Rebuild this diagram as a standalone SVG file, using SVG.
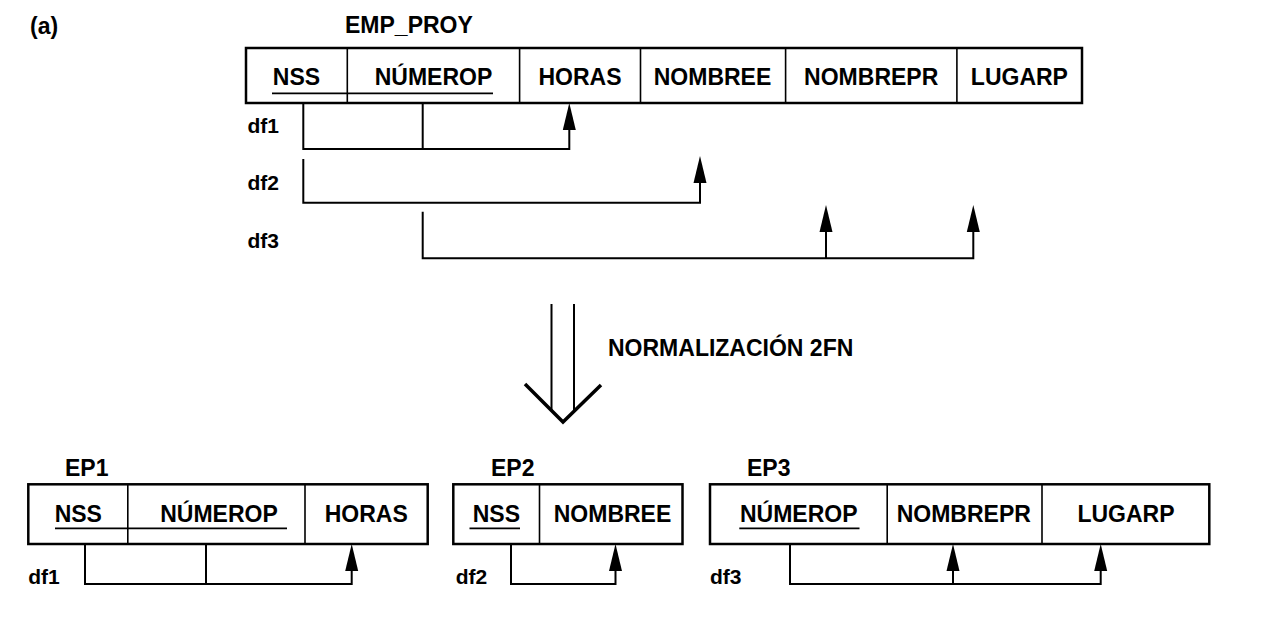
<svg xmlns="http://www.w3.org/2000/svg" width="1262" height="625" viewBox="0 0 1262 625">
  <style>
    text { font-family: "Liberation Sans", Arial, sans-serif; font-weight: bold; fill: #000; }
    .fld { font-size: 23px; text-anchor: middle; }
    .ttl { font-size: 23px; }
    .df { font-size: 21px; }
    .box { fill: #fff; stroke: #000; stroke-width: 2.5; }
    .div { stroke: #000; stroke-width: 1.6; fill: none; }
    .ul { stroke: #000; stroke-width: 1.8; fill: none; }
    .con { stroke: #000; stroke-width: 2; fill: none; }
    .arr { marker-end: url(#ah); }
  </style>
  <defs>
    <marker id="ah" markerUnits="userSpaceOnUse" viewBox="0 -7 27 14" markerWidth="27" markerHeight="14" refX="0" refY="0" orient="auto">
      <path d="M0,-6.5 L27,0 L0,6.5 Z" fill="#000"/>
    </marker>
  </defs>
  <rect width="1262" height="625" fill="#fff"/>

  <text x="30" y="33.5" class="ttl">(a)</text>

  <g id="EMP_PROY">
    <text x="345" y="33" class="ttl">EMP_PROY</text>
    <rect x="246" y="48" width="836" height="55" class="box"/>
    <path d="M347.3,48V103 M519.6,48V103 M640.5,48V103 M785.6,48V103 M956.9,48V103" class="div"/>
    <text x="296.5" y="85" class="fld">NSS</text>
    <text x="433.5" y="85" class="fld">NÚMEROP</text>
    <text x="580" y="85" class="fld">HORAS</text>
    <text x="712.5" y="85" class="fld">NOMBREE</text>
    <text x="871.2" y="85" class="fld">NOMBREPR</text>
    <text x="1019.4" y="85" class="fld">LUGARP</text>
    <path d="M272,93.3H493" class="ul"/>
  </g>

  <g id="transform">
    <path d="M551.5,304V411 M574,304V411" class="con"/>
    <polyline points="525,384 563,422 601,385" fill="none" stroke="#000" stroke-width="3.5"/>
    <text x="608" y="356" style="font-size:23px">NORMALIZACIÓN 2FN</text>
  </g>

  <g id="EP1">
    <text x="65" y="476" class="ttl">EP1</text>
    <rect x="28.3" y="484.3" width="399.4" height="59.7" class="box"/>
    <path d="M127.8,484.3V544 M305,484.3V544" class="div"/>
    <text x="78.3" y="522.3" class="fld">NSS</text>
    <text x="219" y="522.3" class="fld">NÚMEROP</text>
    <text x="366.2" y="522.3" class="fld">HORAS</text>
    <path d="M55,528.3H287" class="ul"/>
  </g>

  <g id="EP2">
    <text x="491" y="476" class="ttl">EP2</text>
    <rect x="453.3" y="484.3" width="229.2" height="59.7" class="box"/>
    <path d="M539.5,484.3V544" class="div"/>
    <text x="496.4" y="522.3" class="fld">NSS</text>
    <text x="612.5" y="522.3" class="fld">NOMBREE</text>
    <path d="M469.5,528.3H520" class="ul"/>
  </g>

  <g id="EP3">
    <text x="747" y="476" class="ttl">EP3</text>
    <rect x="710" y="484.3" width="499.3" height="59.7" class="box"/>
    <path d="M887.2,484.3V544 M1042,484.3V544" class="div"/>
    <text x="798.7" y="522.3" class="fld">NÚMEROP</text>
    <text x="963.8" y="522.3" class="fld">NOMBREPR</text>
    <text x="1126" y="522.3" class="fld">LUGARP</text>
    <path d="M739.3,528.3H859.5" class="ul"/>
  </g>

  <g id="connectors">
    <g id="df1-top">
      <text x="247.5" y="133" class="df">df1</text>
      <path d="M303.3,103V149H569.3V130" class="con arr"/>
      <path d="M422.7,103V149" class="con"/>
    </g>
    <g id="df2-top">
      <text x="247.5" y="190" class="df">df2</text>
      <path d="M303.3,159V202.7H700V183" class="con arr"/>
    </g>
    <g id="df3-top">
      <text x="247.5" y="248" class="df">df3</text>
      <path d="M422.7,211.7V258.3H973.3V232" class="con arr"/>
      <path d="M826,258.3V232" class="con arr"/>
    </g>
    <g id="df1-ep1">
      <text x="28.3" y="584" class="df">df1</text>
      <path d="M85,544V584H351.7V571" class="con arr"/>
      <path d="M206,544V584" class="con"/>
    </g>
    <g id="df2-ep2">
      <text x="455.7" y="584" class="df">df2</text>
      <path d="M511,544V584H615.5V571" class="con arr"/>
    </g>
    <g id="df3-ep3">
      <text x="710" y="584" class="df">df3</text>
      <path d="M790,544V584H1100.7V571" class="con arr"/>
      <path d="M953,584V571" class="con arr"/>
    </g>
  </g>
</svg>
